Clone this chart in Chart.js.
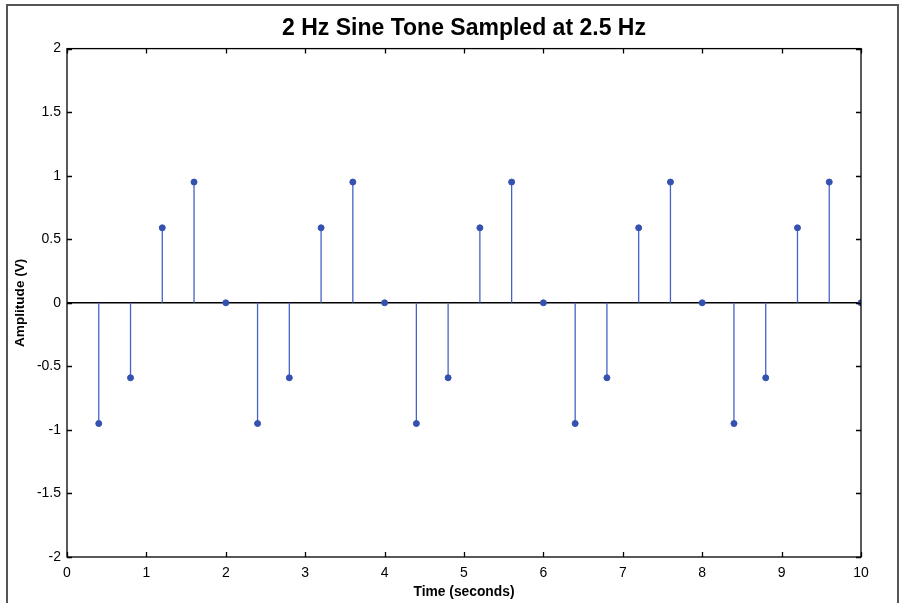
<!DOCTYPE html>
<html lang="en">
<head>
  <meta charset="UTF-8">
  <title>2 Hz Sine Tone Sampled at 2.5 Hz</title>
  <script src="https://cdn.jsdelivr.net/npm/chart.js"></script>
  <style>
    html, body { margin: 0; padding: 0; background: #fff; }
    #wrap { width: 900px; height: 603px; }
  </style>
</head>
<body>
  <div id="wrap"><canvas id="stemChart" width="900" height="603"></canvas></div>
  <script>
    // sample instants (s) and sampled amplitude (V)
    const sampleTimes = [0.4, 0.8, 1.2, 1.6, 2.0, 2.4, 2.8, 3.2, 3.6, 4.0, 4.4, 4.8, 5.2, 5.6, 6.0,
                         6.4, 6.8, 7.2, 7.6, 8.0, 8.4, 8.8, 9.2, 9.6, 10.0];
    const sampleValues = [-0.95, -0.59, 0.59, 0.95, 0, -0.95, -0.59, 0.59, 0.95, 0, -0.95, -0.59, 0.59, 0.95, 0,
                          -0.95, -0.59, 0.59, 0.95, 0, -0.95, -0.59, 0.59, 0.95, 0];
    const xTicks = [0, 1, 2, 3, 4, 5, 6, 7, 8, 9, 10];
    const yTicks = [-2, -1.5, -1, -0.5, 0, 0.5, 1, 1.5, 2];
    const baseline = [0, 10];

    const stemColor = '#4563c4';
    const markColor = '#3552b0';
    const fontFamily = '"Liberation Sans", Arial, sans-serif';

    // each stem: baseline -> value, then a gap
    const stems = [];
    sampleTimes.forEach((t, i) => {
      stems.push({ x: t, y: 0 }, { x: t, y: sampleValues[i] }, { x: t, y: null });
    });
    const markers = sampleTimes.map((t, i) => ({ x: t, y: sampleValues[i] }));

    // outer figure frame + axes box with inward ticks
    const boxPlugin = {
      id: 'boxPlugin',
      beforeDraw(chart) {
        const ctx = chart.ctx;
        ctx.save();
        ctx.fillStyle = '#fff';
        ctx.fillRect(0, 0, chart.width, chart.height);
        ctx.strokeStyle = '#555';
        ctx.lineWidth = 2;
        ctx.strokeRect(7, 5, 891, 640);
        ctx.restore();
      },
      afterDatasetsDraw(chart) {
        const { ctx, chartArea: a, scales } = chart;
        ctx.save();
        ctx.strokeStyle = '#000';
        ctx.lineWidth = 1.3;
        ctx.strokeRect(a.left, a.top, a.right - a.left, a.bottom - a.top);
        ctx.beginPath();
        const len = 5;
        xTicks.forEach(v => {
          const px = Math.round(scales.x.getPixelForValue(v)) + 0.5;
          ctx.moveTo(px, a.bottom); ctx.lineTo(px, a.bottom - len);
          ctx.moveTo(px, a.top); ctx.lineTo(px, a.top + len);
        });
        yTicks.forEach(v => {
          const py = Math.round(scales.y.getPixelForValue(v)) + 0.5;
          ctx.moveTo(a.left, py); ctx.lineTo(a.left + len, py);
          ctx.moveTo(a.right, py); ctx.lineTo(a.right - len, py);
        });
        ctx.stroke();
        ctx.restore();
      }
    };

    new Chart(document.getElementById('stemChart'), {
      type: 'scatter',
      data: {
        datasets: [
          {
            type: 'line',
            label: 'baseline',
            data: baseline.map(x => ({ x: x, y: 0 })),
            borderColor: '#000',
            borderWidth: 1.5,
            pointRadius: 0,
            order: 3
          },
          {
            type: 'line',
            label: 'stems',
            data: stems,
            borderColor: stemColor,
            borderWidth: 1.3,
            pointRadius: 0,
            spanGaps: false,
            order: 2
          },
          {
            label: 'samples',
            data: markers,
            backgroundColor: markColor,
            borderColor: markColor,
            pointRadius: 3,
            order: 1
          }
        ]
      },
      options: {
        responsive: false,
        animation: false,
        layout: { padding: { left: 0, right: 39, top: 0, bottom: 0 } },
        plugins: {
          legend: { display: false },
          tooltip: { enabled: false },
          title: {
            display: true,
            fullSize: false,
            text: '2 Hz Sine Tone Sampled at 2.5 Hz',
            color: '#000',
            font: { family: fontFamily, size: 23, weight: 'bold' },
            padding: { top: 15, bottom: 6 }
          }
        },
        scales: {
          x: {
            type: 'linear',
            min: 0,
            max: 10,
            afterBuildTicks: s => { s.ticks = xTicks.map(v => ({ value: v })); },
            afterFit: s => { s.height = 46; },
            grid: { display: false, drawTicks: false },
            border: { display: false },
            ticks: {
              color: '#000',
              padding: 8,
              font: { family: fontFamily, size: 14 },
              callback: v => String(v)
            },
            title: {
              display: true,
              text: 'Time (seconds)',
              color: '#000',
              font: { family: fontFamily, size: 13.8, weight: 'bold' },
              padding: { top: 0, bottom: 3 }
            }
          },
          y: {
            min: -2,
            max: 2,
            afterBuildTicks: s => { s.ticks = yTicks.map(v => ({ value: v })); },
            afterFit: s => { s.width = 67; },
            grid: { display: false, drawTicks: false },
            border: { display: false },
            ticks: {
              color: '#000',
              padding: 6,
              font: { family: fontFamily, size: 14 },
              callback: v => String(v)
            },
            title: {
              display: true,
              text: 'Amplitude (V)',
              color: '#000',
              font: { family: fontFamily, size: 13.6, weight: 'bold' },
              padding: { top: 12, bottom: 0 }
            }
          }
        }
      },
      plugins: [boxPlugin]
    });
  </script>
</body>
</html>
